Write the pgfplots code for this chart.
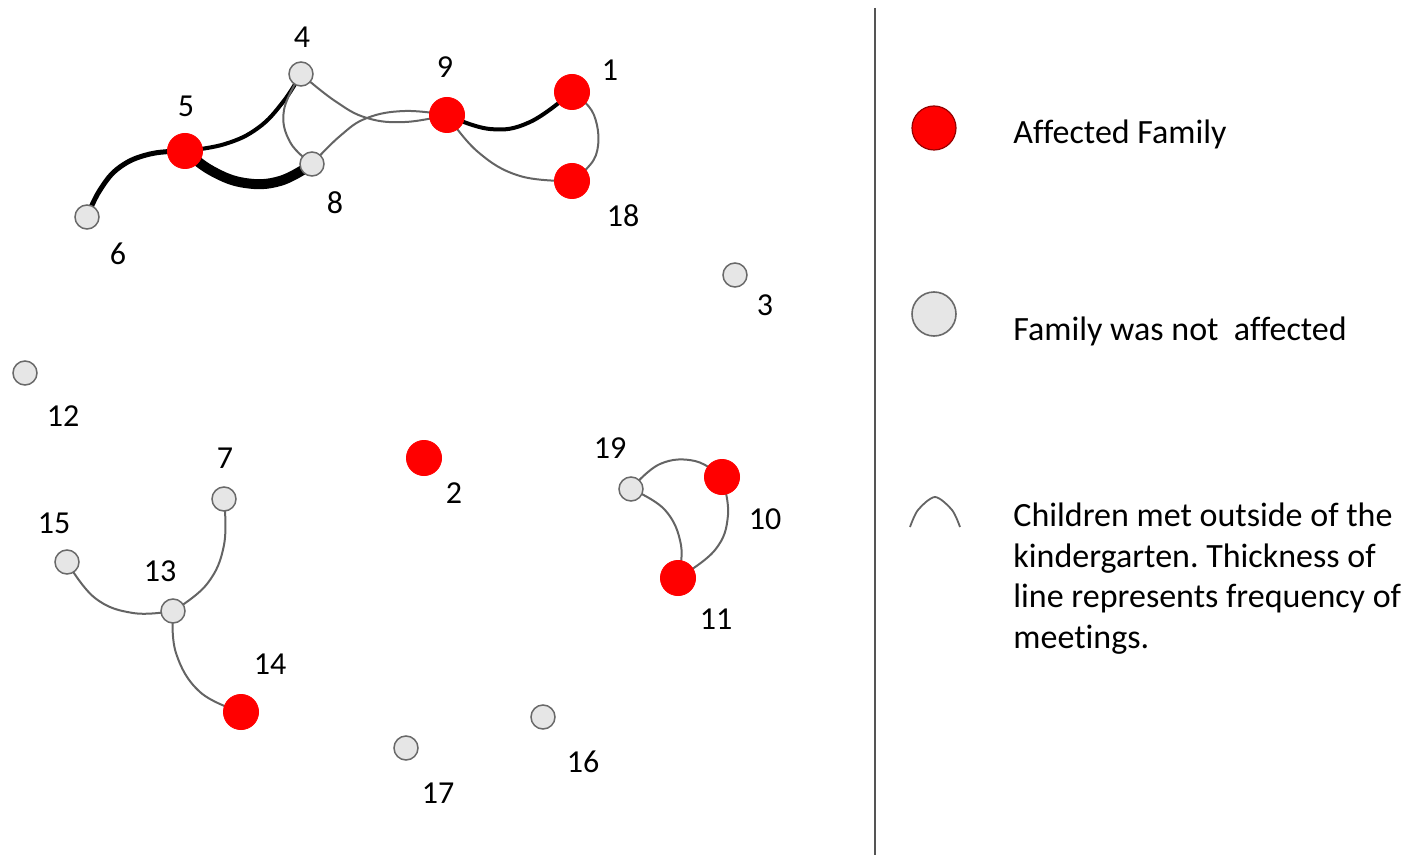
\documentclass[border=0pt]{standalone}
\usepackage{pgfplots}
\pgfplotsset{compat=1.18}
\usepackage{pgfplotstable}
\usepackage{fontspec}
\setmainfont{Carlito}[Ligatures=NoCommon]
\frenchspacing

\definecolor{hit}{RGB}{255,0,0}
\definecolor{hitline}{RGB}{150,0,0}
\definecolor{nodefill}{RGB}{230,230,230}
\definecolor{nodeline}{RGB}{105,105,105}
\definecolor{edge}{RGB}{100,100,100}

% node positions in pixels of the original picture (y runs downwards)
\pgfplotstableread{
x y
572 92
572 181
447 115
185 151
424 458
722 477
678 578
241 712
}\affected

\pgfplotstableread{
x y
301 74
312 164
87 217
735 275
25 373
631 489
224 499
67 562
173 611
543 717
406 748
}\notaffected

\begin{document}
\begin{tikzpicture}
\begin{axis}[
    width=713bp, height=427.5bp, scale only axis,
    xmin=0, xmax=1426, ymin=0, ymax=855,
    y dir=reverse,
    hide axis,
    clip=false,
    thin edge/.style={edge, line width=1bp, smooth, tension=0.7, no marks},
    thick edge/.style={black, smooth, tension=0.7, no marks},
]
\path (rel axis cs:0,0) rectangle (rel axis cs:1,1);

% separator
\addplot[no marks, color={rgb,255:red,85;green,85;blue,85}, line width=1bp] coordinates {(875,8) (875,855)};

% meetings outside the kindergarten
\addplot[thick edge, line width=2.5bp] coordinates {(87,217) (100,190) (120,167) (150,154) (185,151)};
\addplot[thick edge, line width=2bp] coordinates {(185,151) (225,144) (258,128) (283,102) (301,74)};
\addplot[thick edge, line width=5bp] coordinates {(185,151) (212,171) (245,183) (280,181) (312,164)};
\addplot[thin edge] coordinates {(301,74) (284,110) (290,142) (312,164)};
\addplot[thin edge] coordinates {(301,74) (335,101) (367,118) (405,122) (447,115)};
\addplot[thin edge] coordinates {(312,164) (340,136) (367,118) (405,111) (447,115)};
\addplot[thick edge, line width=2bp] coordinates {(447,115) (490,129) (530,122) (572,92)};
\addplot[thin edge] coordinates {(447,115) (478,152) (520,176) (572,181)};
\addplot[thin edge] coordinates {(572,92) (594,115) (596,155) (572,181)};
\addplot[thin edge] coordinates {(631,489) (660,464) (695,461) (722,477)};
\addplot[thin edge] coordinates {(631,489) (665,510) (681,545) (678,578)};
\addplot[thin edge] coordinates {(722,477) (728,515) (715,550) (678,578)};
\addplot[thin edge] coordinates {(67,562) (95,598) (133,613) (173,611)};
\addplot[thin edge] coordinates {(173,611) (207,584) (224,545) (224,499)};
\addplot[thin edge] coordinates {(173,611) (176,653) (200,692) (241,712)};

% families
\addplot[only marks, mark=*, mark size=8.8bp, mark options={fill=hit, draw=hit}] table {\affected};
\addplot[only marks, mark=*, mark size=6bp, mark options={fill=nodefill, draw=nodeline, line width=0.75bp}] table {\notaffected};

% labels
\foreach \n/\lx/\ly in {1/610/70, 2/454/493, 3/765/305, 4/302/37, 5/186/106, 6/118/254,
    7/225/458, 8/335/203, 9/445/67, 10/765/519, 11/716/619, 12/63/416, 13/160/571,
    14/270/664, 15/54/523, 16/583/762, 17/438/793, 18/623/216, 19/610/448}{
  \edef\tmp{\noexpand\node[inner sep=0, font=\noexpand\fontsize{16bp}{19bp}\noexpand\selectfont] at (axis cs:\lx,\ly) {\n};}
  \tmp
}

% legend
\addplot[only marks, mark=*, mark size=11bp, mark options={fill=hit, draw=hitline, line width=0.6bp}] coordinates {(934,128)};
\addplot[only marks, mark=*, mark size=11bp, mark options={fill=nodefill, draw=nodeline, line width=0.8bp}] coordinates {(934,314)};
\addplot[edge, line width=0.9bp, smooth, no marks] coordinates {(910,527) (918,510) (935,497) (952,510) (960,527)};

\begin{scope}[every node/.style={anchor=base west, inner sep=0, font=\fontsize{17bp}{21bp}\selectfont}]
\node at (axis cs:1013,144) {Affected Family};
\node at (axis cs:1013,340) {Family was not\ \ affected};
\node at (axis cs:1013,526) {Children met outside of the};
\node at (axis cs:1013,567) {kindergarten. Thickness of};
\node at (axis cs:1013,607) {line represents frequency of};
\node at (axis cs:1013,648) {meetings.};
\end{scope}
\end{axis}
\end{tikzpicture}
\end{document}
